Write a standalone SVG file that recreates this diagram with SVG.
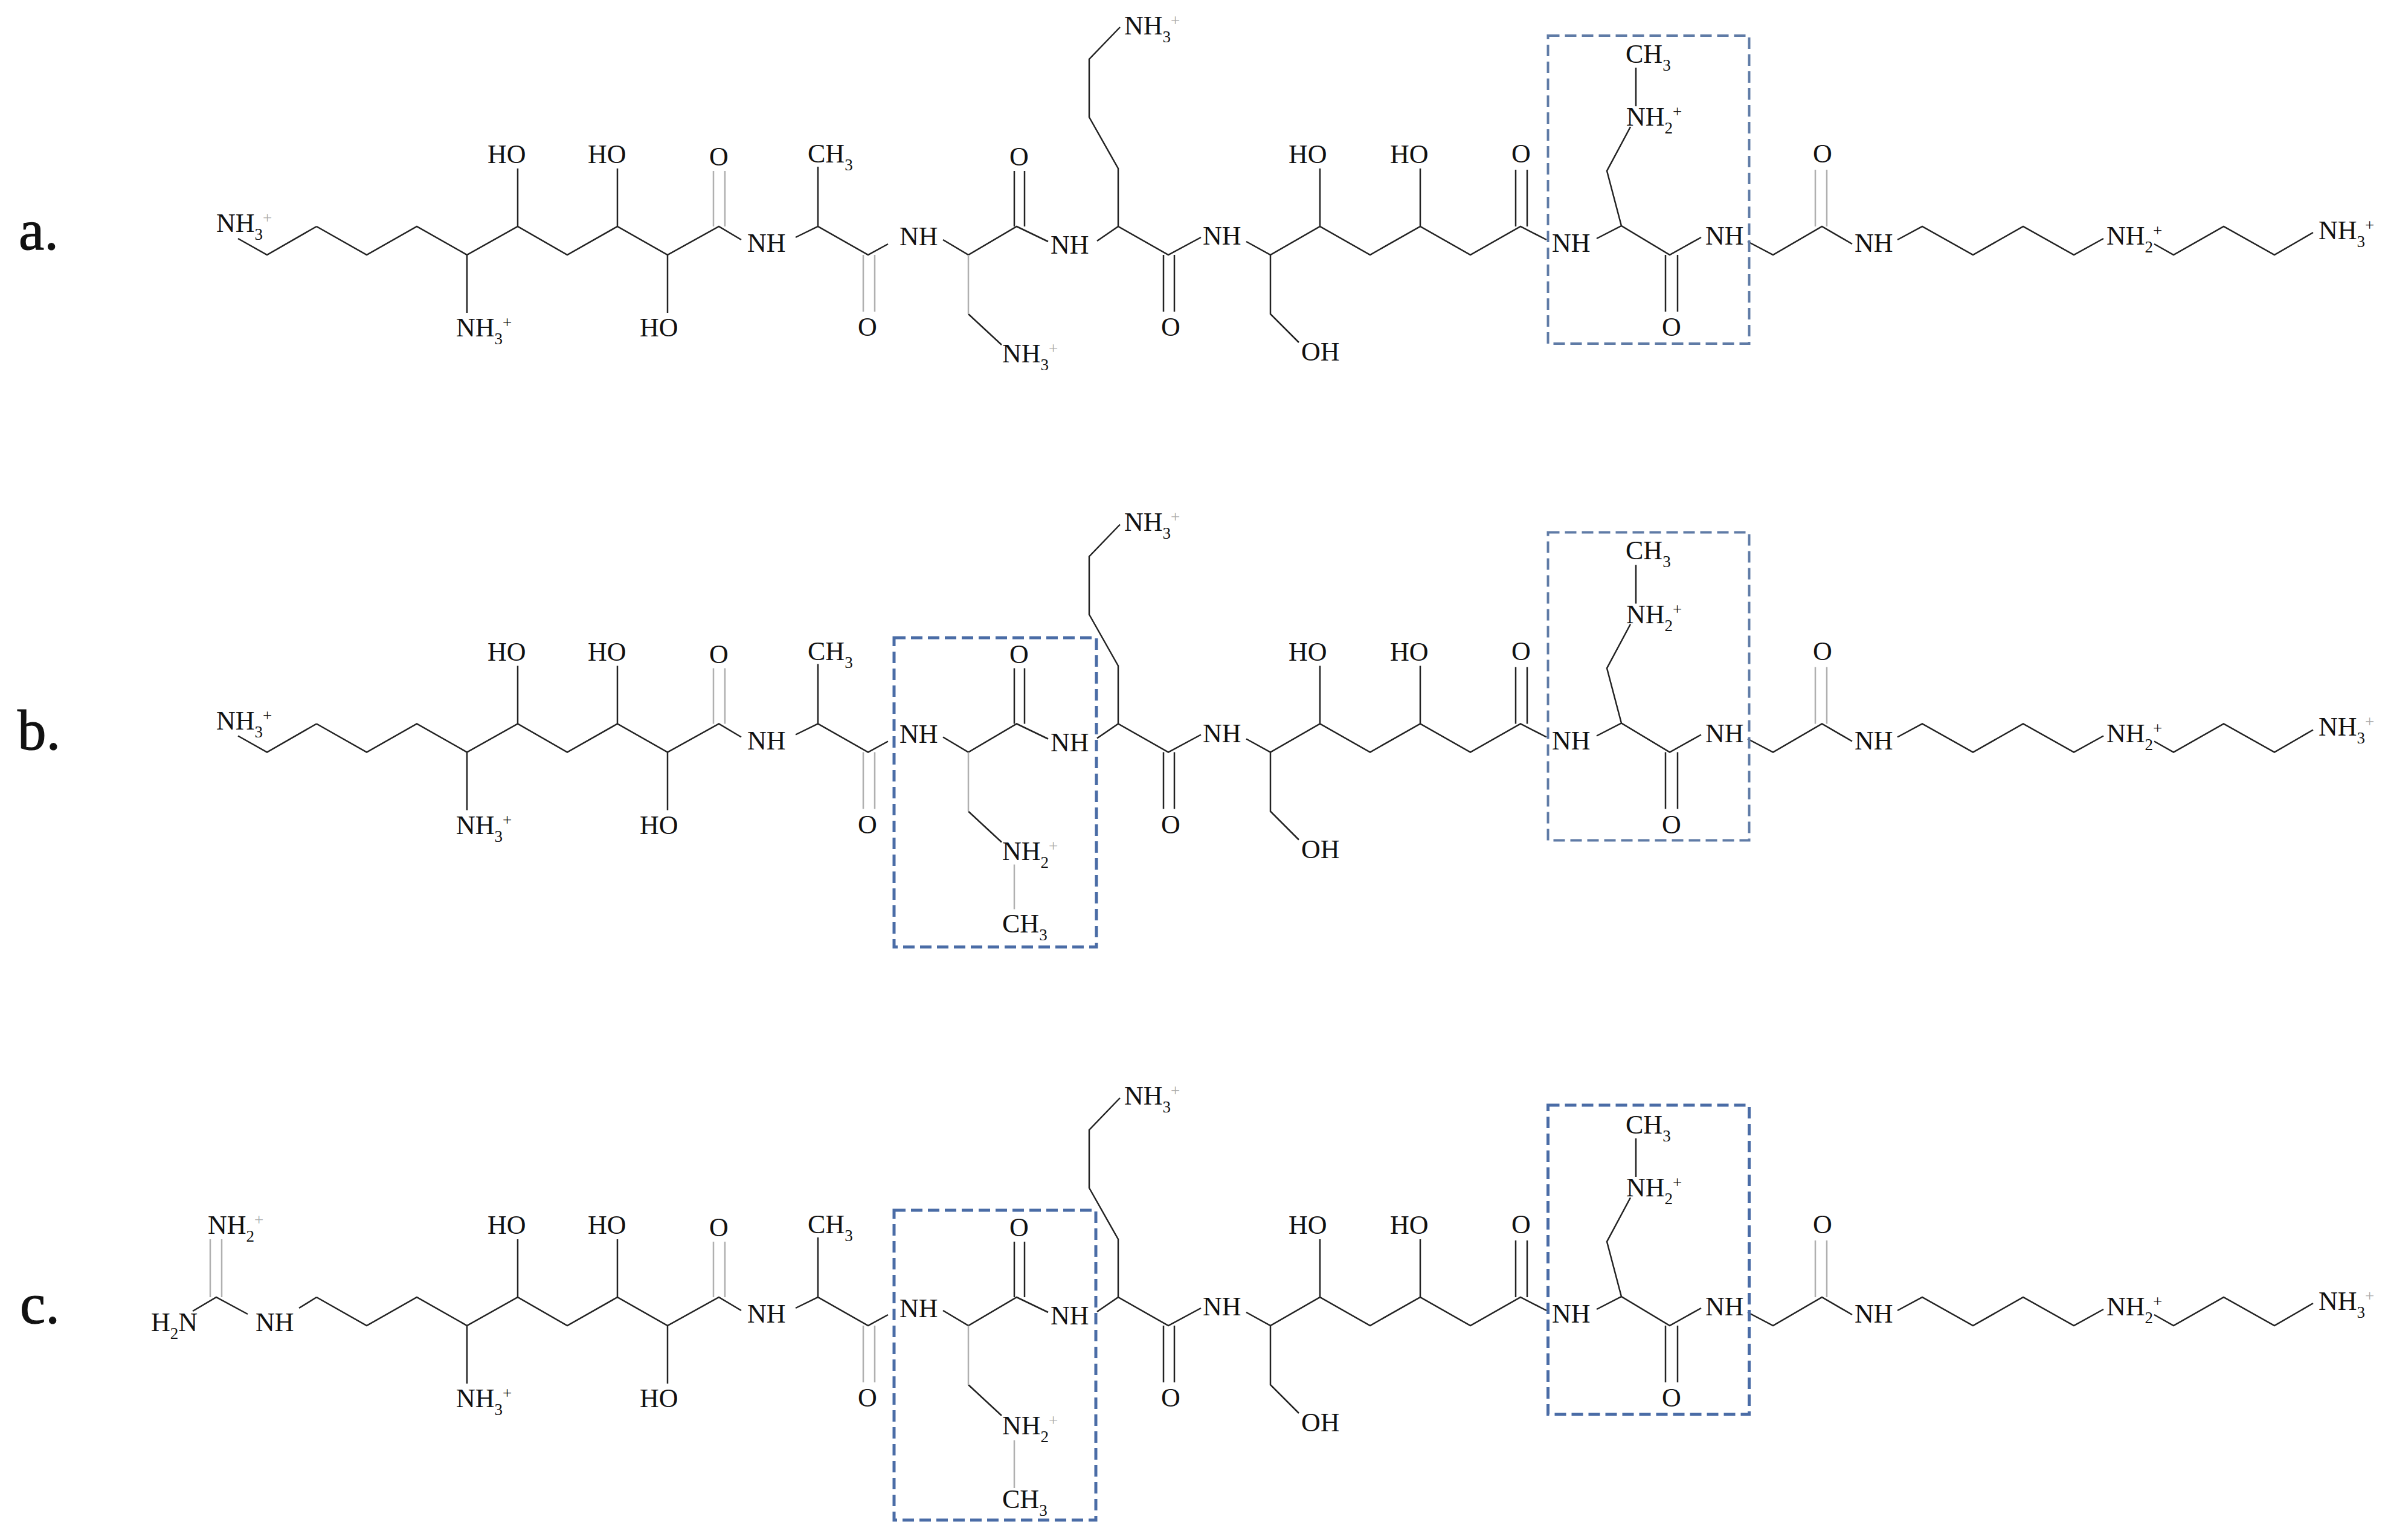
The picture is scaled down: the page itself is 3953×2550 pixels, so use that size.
<svg xmlns="http://www.w3.org/2000/svg" width="3953" height="2550" viewBox="0 0 3953 2550">
<defs>
<style>
text{font-family:"Liberation Serif","Times New Roman",serif;fill:#111}
.t{font-size:44px}
.s{font-size:27px}
.f{font-size:27px;fill:#aaa}
.p{font-size:95px;stroke:#111;stroke-width:1.2}
.b{fill:none;stroke:#222;stroke-width:2.5}
.g{fill:none;stroke:#b0b0b0;stroke-width:2.5}
.d{fill:none;stroke-dasharray:19 9}
.thin{stroke:#5f7ba6;stroke-width:4}
.thick{stroke:#4a6ca6;stroke-width:5}
</style>
<path id="spine" d="M524 375L607 422 690 375 773 422 857 375 939 422 1022 375 1105 422 1190 375 1227 397M1317 393L1354 375 1437 422 1470 404M1561 397L1603 422 1683 375 1735 400M1816 399L1851 375 1934 422 1988 393M2063 400L2103 422 2185 375 2268 422 2351 375 2434 422 2517 375 2560 397M2643 395L2684 374 2764 422 2816 393M2893 400L2935 422 3016 375 3066 404M3141 397L3182 375 3266 422 3349 375 3433 422 3482 395M3566 404L3598 422 3681 375 3765 422 3829 385M857 375V279M1022 375V279M773 422V518M1105 422V518M1354 375V276M1603 520L1658 571M1851 375V279L1803 194V98L1854 45M2103 422V520L2150 567M2185 375V279M2351 375V279M2684 374L2660 283 2699 210M2708 112V176M1679 283V375M1696 283V375M1926 422V516M1944 422V516M2509 281V375M2528 281V375M2757 422V516M2777 422V516"/>
<path id="spine-light" d="M1181 283V375M1200 283V375M1429 422V516M1448 422V516M1603 422V520M3005 281V375M3024 281V375"/>
</defs>
<rect width="3953" height="2550" fill="#fff"/>

<g id="panel-a">
<text id="label-a" class="p" x="31" y="413">a.</text>
<g id="a-connectors">
<use href="#spine" class="b"/><use href="#spine-light" class="g"/>
<path class="b" d="M394 395L442 422 524 375"/>
<rect class="d thin" x="2562.5" y="59" width="333" height="510"/>
</g>
<g id="a-atoms">
<text class="t" x="358" y="384">NH<tspan class="s" dy="13">3</tspan><tspan class="f" dy="-27">+</tspan></text>
<text class="t" x="755" y="557">NH<tspan class="s" dy="13">3</tspan><tspan class="s" dy="-27">+</tspan></text>
<text class="t" x="807" y="270">HO</text>
<text class="t" x="973" y="270">HO</text>
<text class="t" x="1059" y="557">HO</text>
<text class="t" x="1174" y="274">O</text>
<text class="t" x="1237" y="417">NH</text>
<text class="t" x="1337" y="269">CH<tspan class="s" dy="13">3</tspan></text>
<text class="t" x="1420" y="556">O</text>
<text class="t" x="1489" y="406">NH</text>
<text class="t" x="1659" y="600">NH<tspan class="s" dy="13">3</tspan><tspan class="f" dy="-27">+</tspan></text>
<text class="t" x="1671" y="274">O</text>
<text class="t" x="1739" y="420">NH</text>
<text class="t" x="1861" y="57">NH<tspan class="s" dy="13">3</tspan><tspan class="f" dy="-27">+</tspan></text>
<text class="t" x="1922" y="556">O</text>
<text class="t" x="1991" y="405">NH</text>
<text class="t" x="2133" y="270">HO</text>
<text class="t" x="2154" y="597">OH</text>
<text class="t" x="2301" y="270">HO</text>
<text class="t" x="2502" y="269">O</text>
<text class="t" x="2569" y="417">NH</text>
<text class="t" x="2691" y="104">CH<tspan class="s" dy="13">3</tspan></text>
<text class="t" x="2692" y="208">NH<tspan class="s" dy="13">2</tspan><tspan class="s" dy="-27">+</tspan></text>
<text class="t" x="2751" y="556">O</text>
<text class="t" x="2823" y="405">NH</text>
<text class="t" x="3001" y="269">O</text>
<text class="t" x="3070" y="417">NH</text>
<text class="t" x="3487" y="405">NH<tspan class="s" dy="13">2</tspan><tspan class="s" dy="-27">+</tspan></text>
<text class="t" x="3838" y="396">NH<tspan class="s" dy="13">3</tspan><tspan class="s" dy="-27">+</tspan></text>
</g>
</g>

<g id="panel-b">
<text id="label-b" class="p" x="29" y="1241">b.</text>
<g transform="translate(0 823.5)">
<g id="b-connectors">
<use href="#spine" class="b"/><use href="#spine-light" class="g"/>
<path class="b" d="M394 395L442 422 524 375"/>
<path class="g" d="M1679 608V682"/>
<rect class="d thin" x="2562.5" y="58" width="333" height="510"/>
<rect class="d thick" x="1480" y="232.5" width="335" height="512"/>
</g>
<g id="b-atoms">
<text class="t" x="358" y="384">NH<tspan class="s" dy="13">3</tspan><tspan class="s" dy="-27">+</tspan></text>
<text class="t" x="755" y="557">NH<tspan class="s" dy="13">3</tspan><tspan class="s" dy="-27">+</tspan></text>
<text class="t" x="807" y="270">HO</text>
<text class="t" x="973" y="270">HO</text>
<text class="t" x="1059" y="557">HO</text>
<text class="t" x="1174" y="274">O</text>
<text class="t" x="1237" y="417">NH</text>
<text class="t" x="1337" y="269">CH<tspan class="s" dy="13">3</tspan></text>
<text class="t" x="1420" y="556">O</text>
<text class="t" x="1489" y="406">NH</text>
<text class="t" x="1659" y="600">NH<tspan class="s" dy="13">2</tspan><tspan class="f" dy="-27">+</tspan></text>
<text class="t" x="1659" y="720">CH<tspan class="s" dy="13">3</tspan></text>
<text class="t" x="1671" y="274">O</text>
<text class="t" x="1739" y="420">NH</text>
<text class="t" x="1861" y="55">NH<tspan class="s" dy="13">3</tspan><tspan class="f" dy="-27">+</tspan></text>
<text class="t" x="1922" y="556">O</text>
<text class="t" x="1991" y="405">NH</text>
<text class="t" x="2133" y="270">HO</text>
<text class="t" x="2154" y="597">OH</text>
<text class="t" x="2301" y="270">HO</text>
<text class="t" x="2502" y="269">O</text>
<text class="t" x="2569" y="417">NH</text>
<text class="t" x="2691" y="102">CH<tspan class="s" dy="13">3</tspan></text>
<text class="t" x="2692" y="208">NH<tspan class="s" dy="13">2</tspan><tspan class="s" dy="-27">+</tspan></text>
<text class="t" x="2751" y="556">O</text>
<text class="t" x="2823" y="405">NH</text>
<text class="t" x="3001" y="269">O</text>
<text class="t" x="3070" y="417">NH</text>
<text class="t" x="3487" y="405">NH<tspan class="s" dy="13">2</tspan><tspan class="s" dy="-27">+</tspan></text>
<text class="t" x="3838" y="394">NH<tspan class="s" dy="13">3</tspan><tspan class="f" dy="-27">+</tspan></text>
</g>
</g>
</g>

<g id="panel-c">
<text id="label-c" class="p" x="33" y="2191">c.</text>
<g transform="translate(0 1773)">
<g id="c-connectors">
<use href="#spine" class="b"/><use href="#spine-light" class="g"/>
<path class="b" d="M495 393L524 375M319 398L358 375 410 403"/>
<path class="g" d="M348 279V375M367 279V375M1679 612V691"/>
<rect class="d thick" x="2562.5" y="57" width="333" height="512"/>
<rect class="d thick" x="1480" y="231" width="334" height="513"/>
</g>
<g id="c-atoms">
<text class="t" x="344" y="270">NH<tspan class="s" dy="13">2</tspan><tspan class="f" dy="-27">+</tspan></text>
<text class="t" x="250" y="431">H<tspan class="s" dy="13">2</tspan><tspan dy="-13">N</tspan></text>
<text class="t" x="423" y="431">NH</text>
<text class="t" x="755" y="557">NH<tspan class="s" dy="13">3</tspan><tspan class="s" dy="-27">+</tspan></text>
<text class="t" x="807" y="270">HO</text>
<text class="t" x="973" y="270">HO</text>
<text class="t" x="1059" y="557">HO</text>
<text class="t" x="1174" y="274">O</text>
<text class="t" x="1237" y="417">NH</text>
<text class="t" x="1337" y="269">CH<tspan class="s" dy="13">3</tspan></text>
<text class="t" x="1420" y="556">O</text>
<text class="t" x="1489" y="408">NH</text>
<text class="t" x="1659" y="602">NH<tspan class="s" dy="13">2</tspan><tspan class="f" dy="-27">+</tspan></text>
<text class="t" x="1659" y="724">CH<tspan class="s" dy="13">3</tspan></text>
<text class="t" x="1671" y="274">O</text>
<text class="t" x="1739" y="420">NH</text>
<text class="t" x="1861" y="56">NH<tspan class="s" dy="13">3</tspan><tspan class="f" dy="-27">+</tspan></text>
<text class="t" x="1922" y="556">O</text>
<text class="t" x="1991" y="405">NH</text>
<text class="t" x="2133" y="270">HO</text>
<text class="t" x="2154" y="597">OH</text>
<text class="t" x="2301" y="270">HO</text>
<text class="t" x="2502" y="269">O</text>
<text class="t" x="2569" y="417">NH</text>
<text class="t" x="2691" y="104">CH<tspan class="s" dy="13">3</tspan></text>
<text class="t" x="2692" y="208">NH<tspan class="s" dy="13">2</tspan><tspan class="s" dy="-27">+</tspan></text>
<text class="t" x="2751" y="556">O</text>
<text class="t" x="2823" y="405">NH</text>
<text class="t" x="3001" y="269">O</text>
<text class="t" x="3070" y="417">NH</text>
<text class="t" x="3487" y="405">NH<tspan class="s" dy="13">2</tspan><tspan class="s" dy="-27">+</tspan></text>
<text class="t" x="3838" y="396">NH<tspan class="s" dy="13">3</tspan><tspan class="f" dy="-27">+</tspan></text>
</g>
</g>
</g>
</svg>
